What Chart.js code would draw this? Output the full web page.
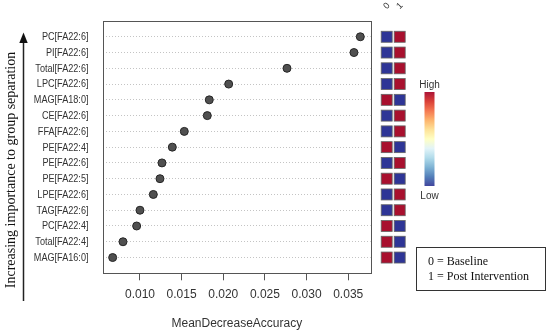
<!DOCTYPE html>
<html>
<head>
<meta charset="utf-8">
<script src="https://cdn.jsdelivr.net/npm/chart.js@4.4.1/dist/chart.umd.min.js"></script>
<style>
  html, body { margin: 0; padding: 0; background: #fff; }
  canvas { display: block; }
</style>
</head>
<body>
<canvas id="c" width="550" height="336"></canvas>
<script>
const categories = ["PC[FA22:6]","PI[FA22:6]","Total[FA22:6]","LPC[FA22:6]","MAG[FA18:0]","CE[FA22:6]","FFA[FA22:6]","PE[FA22:4]","PE[FA22:6]","PE[FA22:5]","LPE[FA22:6]","TAG[FA22:6]","PC[FA22:4]","Total[FA22:4]","MAG[FA16:0]"];
const accuracy = [0.03645,0.03569,0.02765,0.02065,0.01832,0.01808,0.01532,0.01388,0.01264,0.0124,0.0116,0.0100,0.0096,0.00796,0.00672];
// heat level per group: 1 = high (red), 0 = low (blue)
const heatBaseline = [0,0,0,0,1,0,0,1,0,1,0,0,1,1,1];
const heatPost     = [1,1,1,1,0,1,1,0,1,0,1,1,0,0,0];
const xTicks = [0.010,0.015,0.020,0.025,0.030,0.035];
const xTickLabels = ["0.010","0.015","0.020","0.025","0.030","0.035"];
const colHeaders = ["0","1"];
const legendLines = ["0 = Baseline","1 = Post Intervention"];
const yTitle = "Increasing importance to group separation";
const xTitle = "MeanDecreaseAccuracy";

const RED = '#a8102e', BLUE = '#2e3596';
const heatArrays = [heatBaseline, heatPost];

const decor = {
  id: 'decor',
  afterDatasetsDraw(chart) {
    const ctx = chart.ctx;
    ctx.save();
    // heatmap cells, positioned by the library's scales (xh / y)
    [1, 2].forEach((di, col) => {
      const meta = chart.getDatasetMeta(di);
      meta.data.forEach((el, i) => {
        const s = 11;
        ctx.fillStyle = heatArrays[col][i] ? RED : BLUE;
        ctx.fillRect(el.x - s/2, el.y - s/2, s, s);
        ctx.strokeStyle = '#666'; ctx.lineWidth = 0.8;
        ctx.strokeRect(el.x - s/2, el.y - s/2, s, s);
      });
    });
    ctx.restore();
  },
  afterDraw(chart) {
    const ctx = chart.ctx, a = chart.chartArea;
    ctx.save();
    // plot box
    ctx.strokeStyle = '#555'; ctx.lineWidth = 1;
    ctx.strokeRect(Math.round(a.left)+0.5, Math.round(a.top)+0.5, Math.round(a.right-a.left), Math.round(a.bottom-a.top));
    // y category labels (horizontally condensed like the reference)
    const ys = chart.scales.y;
    ctx.fillStyle = '#333';
    ctx.font = "10.6px 'Liberation Sans', Arial, sans-serif";
    ctx.textAlign = 'right'; ctx.textBaseline = 'middle';
    ys.ticks.forEach((t) => {
      const py = ys.getPixelForValue(t.value);
      ctx.save();
      ctx.translate(88.5, py + 0.5);
      ctx.scale(0.86, 1);
      ctx.fillText(categories[t.value], 0, 0);
      ctx.restore();
    });
    // x title
    ctx.fillStyle = '#333';
    ctx.font = "12px 'Liberation Sans', Arial, sans-serif";
    ctx.textAlign = 'center'; ctx.textBaseline = 'middle';
    ctx.fillText(xTitle, (a.left+a.right)/2, 324);
    // y title
    ctx.save();
    ctx.translate(11, 170); ctx.rotate(-Math.PI/2);
    ctx.fillStyle = '#111';
    ctx.font = "14px 'Liberation Serif', 'Times New Roman', serif";
    ctx.fillText(yTitle, 0, 0);
    ctx.restore();
    // arrow
    ctx.strokeStyle = '#222'; ctx.lineWidth = 1.5;
    ctx.beginPath(); ctx.moveTo(23.5, 301); ctx.lineTo(23.5, 42); ctx.stroke();
    ctx.fillStyle = '#111';
    ctx.beginPath(); ctx.moveTo(23.5, 32.5); ctx.lineTo(19.3, 43); ctx.lineTo(27.7, 43); ctx.closePath(); ctx.fill();
    // column headers
    const xh = chart.scales.xh;
    ctx.fillStyle = '#333';
    ctx.font = "9px 'Liberation Sans', Arial, sans-serif";
    colHeaders.forEach((h, i) => {
      ctx.save();
      ctx.translate(xh.getPixelForValue(i), 6);
      ctx.rotate(-Math.PI/4);
      ctx.textAlign = 'center'; ctx.textBaseline = 'middle';
      ctx.fillText(h, 0, 0);
      ctx.restore();
    });
    // colour bar
    const g = ctx.createLinearGradient(0, 92, 0, 186);
    const stops = ['#a50026','#d73027','#f46d43','#fdae61','#fee090','#ffffbf','#e0f3f8','#abd9e9','#74add1','#4575b4','#313695'];
    stops.forEach((c, i) => g.addColorStop(i/(stops.length-1), c));
    ctx.globalAlpha = 0.92;
    ctx.fillStyle = g;
    ctx.fillRect(424.5, 92, 10, 94);
    ctx.globalAlpha = 1;
    ctx.fillStyle = '#333';
    ctx.font = "10px 'Liberation Sans', Arial, sans-serif";
    ctx.textAlign = 'center'; ctx.textBaseline = 'middle';
    ctx.fillText('High', 429.5, 85);
    ctx.fillText('Low', 429.5, 196);
    // legend box
    ctx.strokeStyle = '#333'; ctx.lineWidth = 1;
    ctx.strokeRect(416.5, 247.5, 129, 43);
    ctx.fillStyle = '#111';
    ctx.font = "12px 'Liberation Serif', 'Times New Roman', serif";
    ctx.textAlign = 'left';
    ctx.fillText(legendLines[0], 428, 262);
    ctx.fillText(legendLines[1], 428, 277);
    ctx.restore();
  }
};

new Chart(document.getElementById('c'), {
  type: 'scatter',
  data: {
    datasets: [
      {
        label: 'MeanDecreaseAccuracy',
        data: categories.map((c, i) => ({x: accuracy[i], y: i})),
        backgroundColor: '#505050', borderColor: '#262626', borderWidth: 1,
        pointRadius: 4, pointHoverRadius: 4,
        xAxisID: 'x', yAxisID: 'y'
      },
      {
        label: colHeaders[0],
        data: categories.map((c, i) => ({x: 0, y: i})),
        pointRadius: 0, pointHoverRadius: 0,
        xAxisID: 'xh', yAxisID: 'y'
      },
      {
        label: colHeaders[1],
        data: categories.map((c, i) => ({x: 1, y: i})),
        pointRadius: 0, pointHoverRadius: 0,
        xAxisID: 'xh', yAxisID: 'y'
      }
    ]
  },
  options: {
    responsive: false,
    animation: false,
    events: [],
    layout: { padding: { left: 0, right: 179.3, top: 7.5, bottom: 0 } },
    plugins: { legend: { display: false }, tooltip: { enabled: false } },
    scales: {
      x: {
        type: 'linear', position: 'bottom',
        min: 0.00556, max: 0.0377,
        afterFit(s) { s.height = 62.7; },
        afterBuildTicks(s) { s.ticks = xTicks.map(v => ({value: v})); },
        ticks: {
          callback: (v, i) => xTickLabels[i],
          color: '#333', padding: 7, maxRotation: 0,
          font: { family: "'Liberation Sans', Arial, sans-serif", size: 12 }
        },
        grid: { drawOnChartArea: false, drawTicks: true, tickLength: 7, color: '#555', tickColor: '#555' },
        border: { display: false }
      },
      xh: {
        type: 'linear', display: false,
        min: -(386.7-103)/13, max: -(386.7-103)/13 + 267.7/13
      },
      y: {
        type: 'linear', position: 'left', reverse: true,
        min: -1, max: 15,
        afterFit(s) { s.width = 103; },
        afterBuildTicks(s) { s.ticks = categories.map((c, i) => ({value: i})); },
        ticks: {
          callback: (v) => categories[v],
          color: 'rgba(0,0,0,0)', padding: 15,
          font: { family: "'Liberation Sans', Arial, sans-serif", size: 10 }
        },
        grid: { drawTicks: false, color: '#c4c4c4', lineWidth: 1 },
        border: { display: false, dash: [1, 2] }
      }
    }
  },
  plugins: [decor]
});
</script>
</body>
</html>
